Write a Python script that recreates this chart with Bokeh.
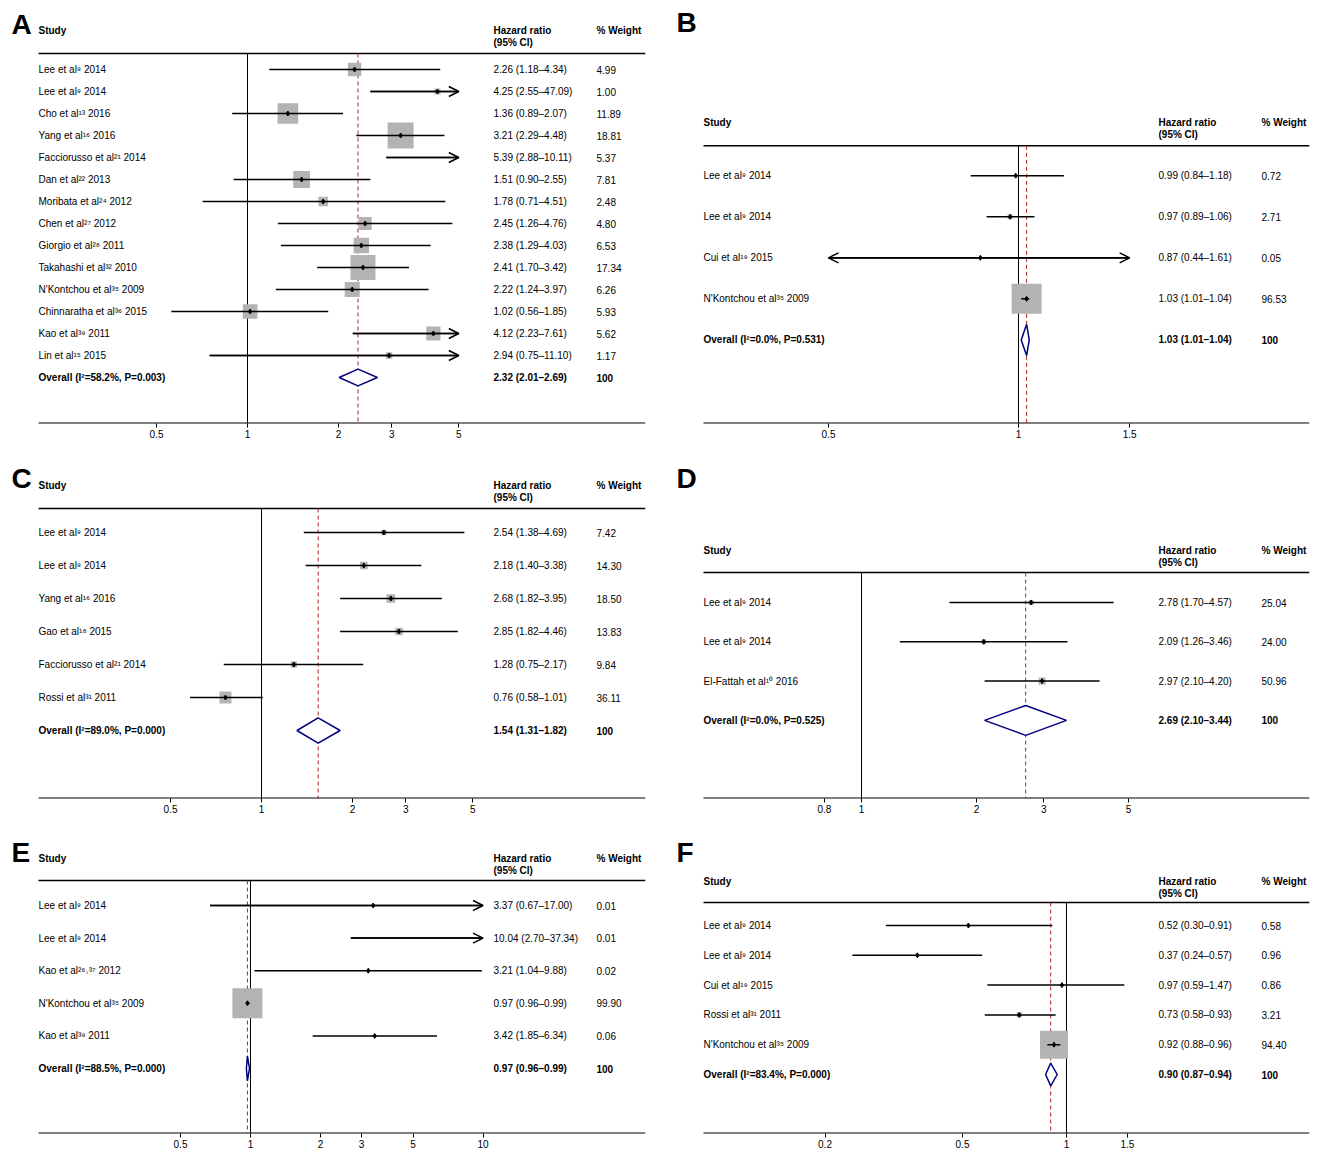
import math
from bokeh.plotting import figure
from bokeh.models import Range1d, FixedTicker, Arrow, OpenHead, LinearScale
from bokeh.core.properties import value
from bokeh.layouts import column, row
from bokeh.embed import file_html
from bokeh.resources import INLINE

# ---- data ----
a_study = ["Lee et al⁹ 2014", "Lee et al⁹ 2014", "Cho et al¹³ 2016", "Yang et al¹⁶ 2016",
           "Facciorusso et al²¹ 2014", "Dan et al²² 2013", "Moribata et al²⁴ 2012", "Chen et al²⁷ 2012",
           "Giorgio et al²⁸ 2011", "Takahashi et al³² 2010", "N'Kontchou et al³⁵ 2009",
           "Chinnaratha et al³⁶ 2015", "Kao et al³⁹ 2011", "Lin et al¹⁵ 2015"]
a_hr = [2.26, 4.25, 1.36, 3.21, 5.39, 1.51, 1.78, 2.45, 2.38, 2.41, 2.22, 1.02, 4.12, 2.94]
a_lo = [1.18, 2.55, 0.89, 2.29, 2.88, 0.90, 0.71, 1.26, 1.29, 1.70, 1.24, 0.56, 2.23, 0.75]
a_hi = [4.34, 47.09, 2.07, 4.48, 10.11, 2.55, 4.51, 4.76, 4.03, 3.42, 3.97, 1.85, 7.61, 11.10]
a_wt = [4.99, 1.00, 11.89, 18.81, 5.37, 7.81, 2.48, 4.80, 6.53, 17.34, 6.26, 5.93, 5.62, 1.17]
a_overall = (2.32, 2.01, 2.69)
a_overall_label = "Overall (I²=58.2%, P=0.003)"
a_ticks = [0.5, 1, 2, 3, 5]

b_study = ["Lee et al⁹ 2014", "Lee et al⁹ 2014", "Cui et al¹⁹ 2015", "N'Kontchou et al³⁵ 2009"]
b_hr = [0.99, 0.97, 0.87, 1.03]
b_lo = [0.84, 0.89, 0.44, 1.01]
b_hi = [1.18, 1.06, 1.61, 1.04]
b_wt = [0.72, 2.71, 0.05, 96.53]
b_overall = (1.03, 1.01, 1.04)
b_overall_label = "Overall (I²=0.0%, P=0.531)"
b_ticks = [0.5, 1, 1.5]

c_study = ["Lee et al⁹ 2014", "Lee et al⁹ 2014", "Yang et al¹⁶ 2016", "Gao et al¹⁸ 2015",
           "Facciorusso et al²¹ 2014", "Rossi et al³¹ 2011"]
c_hr = [2.54, 2.18, 2.68, 2.85, 1.28, 0.76]
c_lo = [1.38, 1.40, 1.82, 1.82, 0.75, 0.58]
c_hi = [4.69, 3.38, 3.95, 4.46, 2.17, 1.01]
c_wt = [7.42, 14.30, 18.50, 13.83, 9.84, 36.11]
c_overall = (1.54, 1.31, 1.82)
c_overall_label = "Overall (I²=89.0%, P=0.000)"
c_ticks = [0.5, 1, 2, 3, 5]

d_study = ["Lee et al⁹ 2014", "Lee et al⁹ 2014", "El-Fattah et al¹⁰ 2016"]
d_hr = [2.78, 2.09, 2.97]
d_lo = [1.70, 1.26, 2.10]
d_hi = [4.57, 3.46, 4.20]
d_wt = [25.04, 24.00, 50.96]
d_overall = (2.69, 2.10, 3.44)
d_overall_label = "Overall (I²=0.0%, P=0.525)"
d_ticks = [0.8, 1, 2, 3, 5]

e_study = ["Lee et al⁹ 2014", "Lee et al⁹ 2014", "Kao et al²⁶˒³⁷ 2012", "N'Kontchou et al³⁵ 2009",
           "Kao et al³⁹ 2011"]
e_hr = [3.37, 10.04, 3.21, 0.97, 3.42]
e_lo = [0.67, 2.70, 1.04, 0.96, 1.85]
e_hi = [17.00, 37.34, 9.88, 0.99, 6.34]
e_wt = [0.01, 0.01, 0.02, 99.90, 0.06]
e_overall = (0.97, 0.96, 0.99)
e_overall_label = "Overall (I²=88.5%, P=0.000)"
e_ticks = [0.5, 1, 2, 3, 5, 10]

f_study = ["Lee et al⁹ 2014", "Lee et al⁹ 2014", "Cui et al¹⁹ 2015", "Rossi et al³¹ 2011",
           "N'Kontchou et al³⁵ 2009"]
f_hr = [0.52, 0.37, 0.97, 0.73, 0.92]
f_lo = [0.30, 0.24, 0.59, 0.58, 0.88]
f_hi = [0.91, 0.57, 1.47, 0.93, 0.96]
f_wt = [0.58, 0.96, 0.86, 3.21, 94.40]
f_overall = (0.90, 0.87, 0.94)
f_overall_label = "Overall (I²=83.4%, P=0.000)"
f_ticks = [0.2, 0.5, 1, 1.5]

FONT = "Liberation Sans"


def panel(letter, study, hr, lo, hi, wt, overall, overall_label, ticks, g):
    # g: layout geometry in page pixels; the frame starts at the canvas left edge
    fw = g["right"] - g["left"]
    off = g["left"] - g["cx"]
    k, one = g["k"], g["one"]
    xlo = 2 ** ((g["cx"] - one) / k)
    xhi = 2 ** ((g["right"] - one) / k)
    ry = lambda py: (py - g["row0"]) / g["sp"]
    ytop, ybot = ry(g["top"]), ry(g["axis"])
    h = g["h"]
    p = figure(width=g["w"], height=h, x_axis_type="log",
               x_range=Range1d(xlo, xhi), y_range=Range1d(ybot, ytop),
               output_backend="svg", toolbar_location=None,
               min_border_left=0, min_border_right=g["w"] - off - fw,
               min_border_top=g["top"] - g["cy"], min_border_bottom=h - (g["axis"] - g["cy"]))
    p.extra_x_ranges = {"px": Range1d(-off, fw)}
    p.extra_x_scales = {"px": LinearScale()}
    p.yaxis.visible = False
    p.grid.visible = False
    p.outline_line_color = None
    ax = p.xaxis[0]
    ax.ticker = FixedTicker(ticks=ticks)
    ax.major_label_overrides = {t: str(t) for t in ticks}
    ax.minor_tick_line_color = None
    ax.major_tick_out = 4
    ax.major_tick_in = 0
    ax.major_label_standoff = 2
    ax.major_label_text_font = FONT
    ax.major_label_text_font_size = "10px"
    ax.major_label_text_color = "black"
    ax.axis_line_color = None

    tmin, tmax = min(ticks), max(ticks)
    n = len(study)
    rows = list(range(n))
    yh = ry(g["hline"])

    # header and bottom rule
    p.segment(x0=0, x1=fw, y0=yh, y1=yh, x_range_name="px", line_color="black", line_width=1.5)
    p.segment(x0=0, x1=fw, y0=ybot, y1=ybot, x_range_name="px", line_color="black", line_width=2)
    sy = ry(g["study_y"])
    sy2 = ry(g["study_y"] + 12)
    tk = dict(x_range_name="px", text_font=value(FONT), text_font_size="10px", text_font_style="bold",
              text_baseline="middle", text_color="black")
    p.text(x=[0, 455, 558], y=[sy, sy, sy], text=["Study", "Hazard ratio", "% Weight"], **tk)
    p.text(x=[455], y=[sy2], text=["(95% CI)"], **tk)

    # reference lines
    p.segment(x0=1, x1=1, y0=yh, y1=ybot, line_color="black", line_width=1)
    p.segment(x0=overall[0], x1=overall[0], y0=yh, y1=ybot, line_color="#b22222",
              line_width=1, line_dash="4 3")

    # boxes
    wmax = max(wt)
    show = [tmin <= v <= tmax for v in hr]
    bx = [v for v, s in zip(hr, show) if s]
    by = [r for r, s in zip(rows, show) if s]
    bs = [g["box"] * math.sqrt(w / wmax) for w, s in zip(wt, show) if s]
    p.scatter(x=bx, y=by, size=bs, marker="square", fill_color="#b3b3b3", line_color=None)

    # CI lines
    cl = [max(v, tmin) for v in lo]
    ch = [min(v, tmax) for v in hi]
    p.segment(x0=cl, x1=ch, y0=rows, y1=rows, line_color="black", line_width=1.5)
    for r in rows:
        if hi[r] > tmax:
            p.add_layout(Arrow(x_start=cl[r], x_end=tmax, y_start=r, y_end=r,
                               end=OpenHead(size=10, line_width=1.5), line_width=1.5))
        if lo[r] < tmin:
            p.add_layout(Arrow(x_start=ch[r], x_end=tmin, y_start=r, y_end=r,
                               end=OpenHead(size=10, line_width=1.5), line_width=1.5))
    p.scatter(x=bx, y=by, size=5, marker="diamond", color="black")

    # overall diamond
    yo = n
    dh = 0.38
    p.patch(x=[overall[1], overall[0], overall[2], overall[0]],
            y=[yo, yo - dh, yo, yo + dh], fill_color="white", line_color="#000080", line_width=1.5)

    # text columns
    tr = dict(x_range_name="px", text_font=value(FONT), text_font_size="10px", text_baseline="middle",
              text_color="black")
    p.text(x=[0] * n, y=rows, text=study, **tr)
    p.text(x=[455] * n, y=rows, text=[f"{a:.2f} ({b:.2f}–{c:.2f})" for a, b, c in zip(hr, lo, hi)], **tr)
    p.text(x=[558] * n, y=rows, text=[f"{w:.2f}" for w in wt], **tr)
    p.text(x=[0, 455, 558], y=[yo] * 3,
           text=[overall_label, f"{overall[0]:.2f} ({overall[1]:.2f}–{overall[2]:.2f})", "100"],
           text_font_style="bold", **tr)

    # panel letter
    p.text(x=[g["lx"] - g["left"]], y=[ry(g["ly"])], text=[letter], x_range_name="px",
           text_font=value(FONT), text_font_size="28px", text_font_style="bold",
           text_color="black", text_baseline="middle", text_align="left")
    return p


L = dict(cx=0, w=650, left=38, right=645)
R = dict(cx=650, w=666, left=703, right=1309)
T1 = dict(cy=0, h=450)
T2 = dict(cy=450, h=377)
T3 = dict(cy=827, h=330)

pa = panel("A", a_study, a_hr, a_lo, a_hi, a_wt, a_overall, a_overall_label, a_ticks,
           dict(**L, **T1, top=8, axis=423, row0=69, sp=22, study_y=30, hline=53, one=247, k=91,
                box=26, lx=11, ly=24))
pb = panel("B", b_study, b_hr, b_lo, b_hi, b_wt, b_overall, b_overall_label, b_ticks,
           dict(**R, **T1, top=8, axis=425, row0=176, sp=41.25, study_y=123, hline=146, one=1018, k=190,
                box=30, lx=676, ly=22))
pc = panel("C", c_study, c_hr, c_lo, c_hi, c_wt, c_overall, c_overall_label, c_ticks,
           dict(**L, **T2, top=458, axis=798, row0=532, sp=33, study_y=485, hline=508, one=261, k=91,
                box=12, lx=11, ly=478))
pd_ = panel("D", d_study, d_hr, d_lo, d_hi, d_wt, d_overall, d_overall_label, d_ticks,
            dict(**R, **T2, top=458, axis=798, row0=602, sp=39.3, study_y=550, hline=572, one=861, k=115,
                 box=7, lx=676, ly=478))
pe = panel("E", e_study, e_hr, e_lo, e_hi, e_wt, e_overall, e_overall_label, e_ticks,
           dict(**L, **T3, top=835, axis=1133, row0=905, sp=32.6, study_y=858, hline=880, one=250, k=70,
                box=30, lx=11, ly=852))
pf = panel("F", f_study, f_hr, f_lo, f_hi, f_wt, f_overall, f_overall_label, f_ticks,
           dict(**R, **T3, top=835, axis=1133, row0=925, sp=29.8, study_y=881, hline=902, one=1066, k=104,
                box=28, lx=676, ly=852))

layout = column(row(pa, pb), row(pc, pd_), row(pe, pf))
open("out.html", "w").write(file_html(layout, INLINE))
